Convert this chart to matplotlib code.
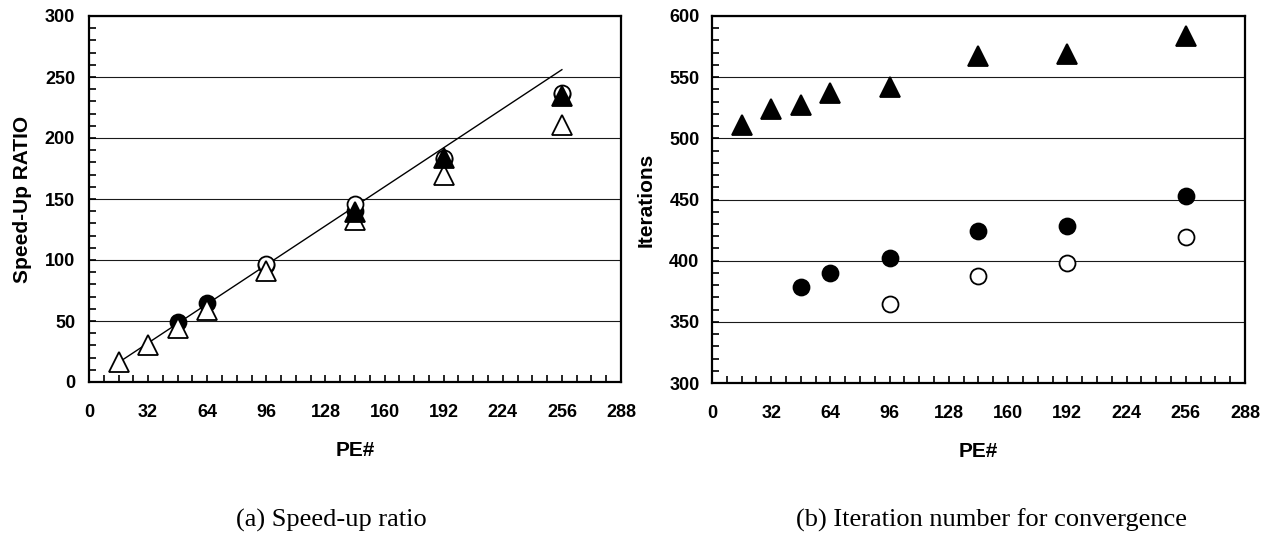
import matplotlib
matplotlib.use("Agg")
import matplotlib.pyplot as plt
from matplotlib.ticker import MultipleLocator

plt.rcParams['font.family'] = ['Liberation Sans', 'DejaVu Sans']

# PE counts
pe_all = [16, 32, 48, 64, 96, 144, 192, 256]
pe_ideal = [16, 32, 48, 64, 96, 144, 192, 256]
ideal = [16, 32, 48, 64, 96, 144, 192, 256]

# (a) speed-up ratio
su_pe_fc = [48, 64, 96, 144, 192, 256]
su_fc = [49, 65, 96, 140, 183, 236]
su_pe_oc = [96, 144, 192, 256]
su_oc = [96.5, 146, 184, 237]
su_ot = [16, 30, 44, 59, 91, 133, 170, 211]
su_pe_ft = [144, 192, 256]
su_ft = [139.5, 184, 234.5]

# (b) iterations
it_ft = [511, 524, 527, 537, 542, 567, 569, 584]
it_pe_fc = [48, 64, 96, 144, 192, 256]
it_fc = [378.5, 390, 402, 424.5, 428, 452.5]
it_pe_oc = [96, 144, 192, 256]
it_oc = [364.5, 387.5, 398.5, 419.5]

fig = plt.figure(figsize=(12.68, 5.37), dpi=100)
ax1 = fig.add_axes([89 / 1268, 1 - 382 / 537, 532 / 1268, 366 / 537])
ax2 = fig.add_axes([712 / 1268, 1 - 383 / 537, 533 / 1268, 367 / 537])

tri = dict(marker='^', ms=15, mew=1.3, ls='none', mec='black')
cir = dict(marker='o', ms=11.5, mew=1.3, ls='none', mec='black')


def style(ax, ylo, yhi, ylab, ypad):
    ax.set_xlim(0, 288)
    ax.set_ylim(ylo, yhi)
    ax.xaxis.set_major_locator(MultipleLocator(32))
    ax.xaxis.set_minor_locator(MultipleLocator(8))
    ax.yaxis.set_major_locator(MultipleLocator(50))
    ax.yaxis.set_minor_locator(MultipleLocator(10))
    ax.tick_params(which='both', direction='in', length=5, width=1.2,
                   top=False, right=False)
    ax.tick_params(axis='x', which='major', pad=16)
    ax.tick_params(axis='y', which='major', pad=ypad)
    for lab in ax.get_xticklabels() + ax.get_yticklabels():
        lab.set_fontsize(13)
        lab.set_fontweight('bold')
    ax.grid(axis='y', which='major', color='0.1', lw=0.8)
    ax.set_axisbelow(True)
    for sp in ax.spines.values():
        sp.set_linewidth(1.6)
    ax.set_xlabel('PE#', fontsize=15, fontweight='bold', labelpad=14)
    ax.set_ylabel(ylab, fontsize=15, fontweight='bold')


# (a)
ax1.plot(pe_ideal, ideal, color='black', lw=1.0, zorder=2)
ax1.plot(su_pe_fc, su_fc, mfc='black', zorder=3, **cir)
ax1.plot(su_pe_oc, su_oc, mfc='white', zorder=4, **cir)
ax1.plot(pe_all, su_ot, mfc='white', zorder=5, **tri)
ax1.plot(su_pe_ft, su_ft, mfc='black', zorder=6, **tri)
style(ax1, 0, 300, 'Speed-Up RATIO', 10)
ax1.yaxis.set_label_coords(-0.108, 0.5)

# (b)
ax2.plot(pe_all, it_ft, mfc='black', zorder=3, **tri)
ax2.plot(it_pe_fc, it_fc, mfc='black', zorder=3, **cir)
ax2.plot(it_pe_oc, it_oc, mfc='white', zorder=3, **cir)
style(ax2, 300, 600, 'Iterations', 9)
ax2.yaxis.set_label_coords(-0.105, 0.5)

fig.text(331 / 1268, 1 - 520 / 537, '(a) Speed-up ratio', ha='center', va='center',
         fontsize=19, family='Liberation Serif')
fig.text(991 / 1268, 1 - 520 / 537, '(b) Iteration number for convergence', ha='center',
         va='center', fontsize=19, family='Liberation Serif')

fig.savefig('out.png', dpi=100)
